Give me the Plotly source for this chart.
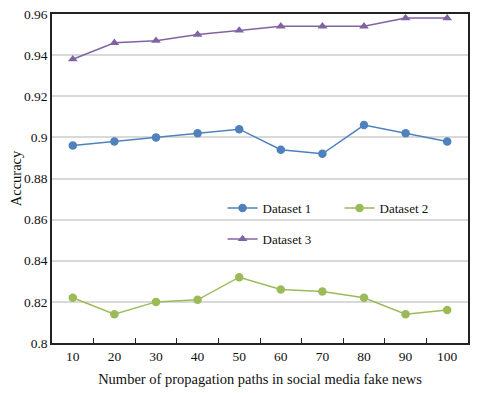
import plotly.graph_objects as go

paths = [10, 20, 30, 40, 50, 60, 70, 80, 90, 100]
dataset1 = [0.896, 0.898, 0.900, 0.902, 0.904, 0.894, 0.892, 0.906, 0.902, 0.898]
dataset2 = [0.822, 0.814, 0.820, 0.821, 0.832, 0.826, 0.825, 0.822, 0.814, 0.816]
dataset3 = [0.938, 0.946, 0.947, 0.950, 0.952, 0.954, 0.954, 0.954, 0.958, 0.958]
y_ticks = [0.8, 0.82, 0.84, 0.86, 0.88, 0.9, 0.92, 0.94, 0.96]

x_labels = [str(p) for p in paths]
FONT = "Liberation Serif, Times New Roman, serif"

fig = go.Figure()
fig.add_trace(go.Scatter(
    x=x_labels, y=dataset1, name="Dataset 1", mode="lines+markers",
    line=dict(color="#4F81BD", width=1.5),
    marker=dict(symbol="circle", size=8.5, color="#4F81BD"),
    legend="legend",
))
fig.add_trace(go.Scatter(
    x=x_labels, y=dataset2, name="Dataset 2", mode="lines+markers",
    line=dict(color="#9BBB59", width=1.5),
    marker=dict(symbol="circle", size=8.5, color="#9BBB59"),
    legend="legend",
))
fig.add_trace(go.Scatter(
    x=x_labels, y=dataset3, name="Dataset 3", mode="lines+markers",
    line=dict(color="#8064A2", width=1.5),
    marker=dict(symbol="triangle-up", size=8.5, color="#8064A2"),
    legend="legend2",
))

legend_style = dict(
    font=dict(family=FONT, size=13, color="#111"),
    bgcolor="rgba(0,0,0,0)",
    orientation="h",
    xanchor="left",
    yanchor="middle",
    entrywidth=72,
    itemwidth=30,
)

# page body has an 8px margin, so the figure is 8px smaller and shifted
fig.update_layout(
    width=472,
    height=385,
    margin=dict(l=44, r=12, t=6, b=50),
    plot_bgcolor="white",
    paper_bgcolor="white",
    font=dict(family=FONT, size=13, color="#111"),
    xaxis=dict(
        type="category",
        range=[-0.5, 9.5],
        automargin=False,
        showgrid=False,
        showline=True, linecolor="#222", linewidth=1.5, mirror=True,
        ticks="inside", ticklen=5, tickcolor="#222", tickson="boundaries",
        tickfont=dict(size=13.5),
        title=dict(text="Number of propagation paths in social media fake news",
                   font=dict(size=14.5), standoff=11),
    ),
    yaxis=dict(
        range=[0.8, 0.96],
        automargin=False,
        tickvals=y_ticks,
        ticktext=[f"{v:g}" for v in y_ticks],
        ticklabeloverflow="allow",
        showgrid=True, gridcolor="#d9d9d9", gridwidth=1.5,
        showline=True, linecolor="#222", linewidth=1.5, mirror=True,
        ticks="", zeroline=False,
        tickfont=dict(size=13.5),
        title=dict(text="Accuracy", font=dict(size=14.5), standoff=10),
    ),
    legend=dict(x=0.41, y=0.41, **legend_style),
    legend2=dict(x=0.41, y=0.316, **legend_style),
)

fig.write_html("out.html")
